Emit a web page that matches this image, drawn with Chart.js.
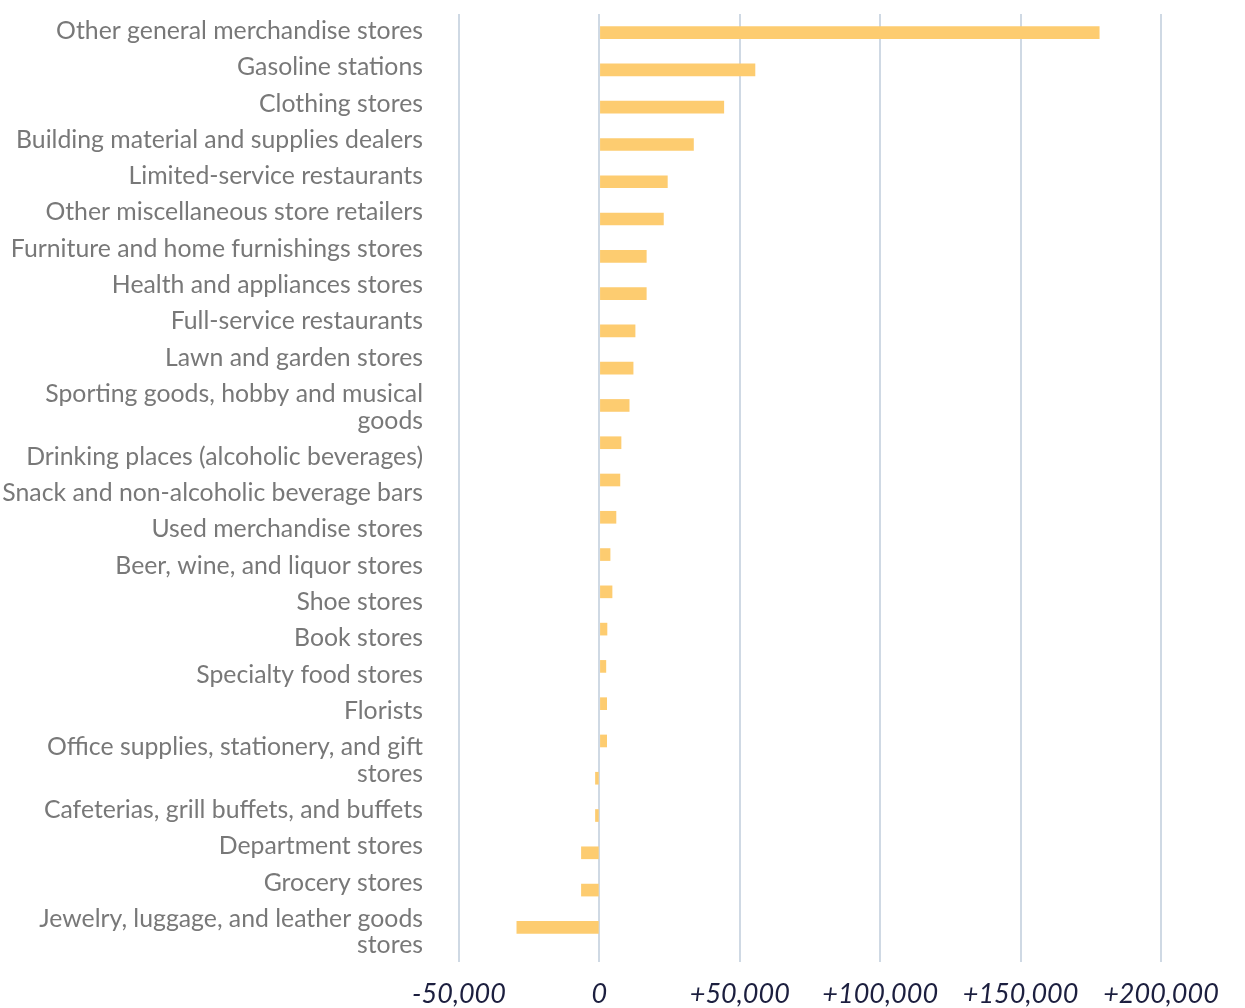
<!DOCTYPE html>
<html>
<head>
<meta charset="utf-8">
<script src="https://cdn.jsdelivr.net/npm/chart.js@4/dist/chart.umd.min.js"></script>
<style>
  html, body { margin: 0; padding: 0; background: #ffffff; }
  #wrap { width: 1245px; height: 1008px; }
</style>
</head>
<body>
<div id="wrap"><canvas id="c" width="1245" height="1008"></canvas></div>
<script>
// ---- Data ----
const categories = [
  "Other general merchandise stores",
  "Gasoline stations",
  "Clothing stores",
  "Building material and supplies dealers",
  "Limited-service restaurants",
  "Other miscellaneous store retailers",
  "Furniture and home furnishings stores",
  "Health and appliances stores",
  "Full-service restaurants",
  "Lawn and garden stores",
  ["Sporting goods, hobby and musical", "goods"],
  "Drinking places (alcoholic beverages)",
  "Snack and non-alcoholic beverage bars",
  "Used merchandise stores",
  "Beer, wine, and liquor stores",
  "Shoe stores",
  "Book stores",
  "Specialty food stores",
  "Florists",
  ["Office supplies, stationery, and gift", "stores"],
  "Cafeterias, grill buffets, and buffets",
  "Department stores",
  "Grocery stores",
  ["Jewelry, luggage, and leather goods", "stores"]
];

// 25 bars are drawn in the reference (one more than the labels)
const values = [
  178000, 55400, 44300, 33500, 24200, 22800, 16700, 16700, 12700, 12000,
  10600, 7700, 7300, 5900, 3800, 4500, 2700, 2300, 2600, 2600,
  -1400, -1400, -6400, -6400, -29400
];

const xTicks = [-50000, 0, 50000, 100000, 150000, 200000];

// ---- Label flow layout (labels are stacked like text lines) ----
const LABEL_FIRST = 17;   // px from plot top to first label centre
const LABEL_STEP = 36.3;  // px between consecutive single-line labels
const LABEL_LINE = 26.5;  // extra px for each additional wrapped line
const PLOT_H = 932;

const labelCentres = [];
{
  let extra = 0;
  categories.forEach((c, i) => {
    const lines = Array.isArray(c) ? c.length : 1;
    labelCentres.push(LABEL_FIRST + LABEL_STEP * i + extra + (lines - 1) * LABEL_LINE / 2);
    extra += (lines - 1) * LABEL_LINE;
  });
}

const barSlots = values.map((v, i) => String(i + 1));

function fmt(v) {
  if (v === 0) return '0';
  return (v > 0 ? '+' : '-') + Math.abs(v).toLocaleString('en-US');
}

const ctx = document.getElementById('c').getContext('2d');
new Chart(ctx, {
  type: 'bar',
  data: {
    labels: barSlots,
    datasets: [{
      data: values,
      backgroundColor: '#fdcc70',
      borderWidth: 0,
      barThickness: 12,
      yAxisID: 'y',
      xAxisID: 'x'
    }]
  },
  options: {
    indexAxis: 'y',
    responsive: false,
    animation: false,
    layout: { padding: { top: 14, right: 84, left: 0, bottom: 0 } },
    plugins: { legend: { display: false }, tooltip: { enabled: false } },
    scales: {
      x: {
        type: 'linear',
        min: -50000,
        max: 200000,
        afterBuildTicks: (s) => { s.ticks = xTicks.map(v => ({ value: v })); },
        afterFit: (s) => { s.height = 62; s.paddingLeft = 0; },
        grid: {
          color: '#cfd9e4',
          lineWidth: 2,
          drawTicks: true,
          tickLength: 16,
          tickColor: '#cfd9e4'
        },
        border: { display: false },
        ticks: {
          callback: (v) => fmt(v),
          color: '#1c1f3f',
          padding: 16,
          maxRotation: 0,
          autoSkip: false,
          font: { family: 'Lato', size: 27, style: 'italic' }
        }
      },
      y: {
        type: 'category',
        display: false,
        offset: true,
        grid: { display: false }
      },
      y2: {
        type: 'linear',
        position: 'left',
        reverse: true,
        offset: false,
        min: 0,
        max: PLOT_H,
        afterBuildTicks: (s) => { s.ticks = labelCentres.map(v => ({ value: v })); },
        afterFit: (s) => { s.width = 459; s.paddingTop = 0; s.paddingBottom = 0; },
        grid: { display: false, drawTicks: false, offset: false },
        border: { display: false },
        ticks: {
          autoSkip: false,
          padding: 36,
          color: '#787878',
          callback: (v, i) => categories[i],
          font: { family: 'Lato', size: 24.8, lineHeight: 1.07 }
        }
      }
    }
  }
});
</script>
</body>
</html>
